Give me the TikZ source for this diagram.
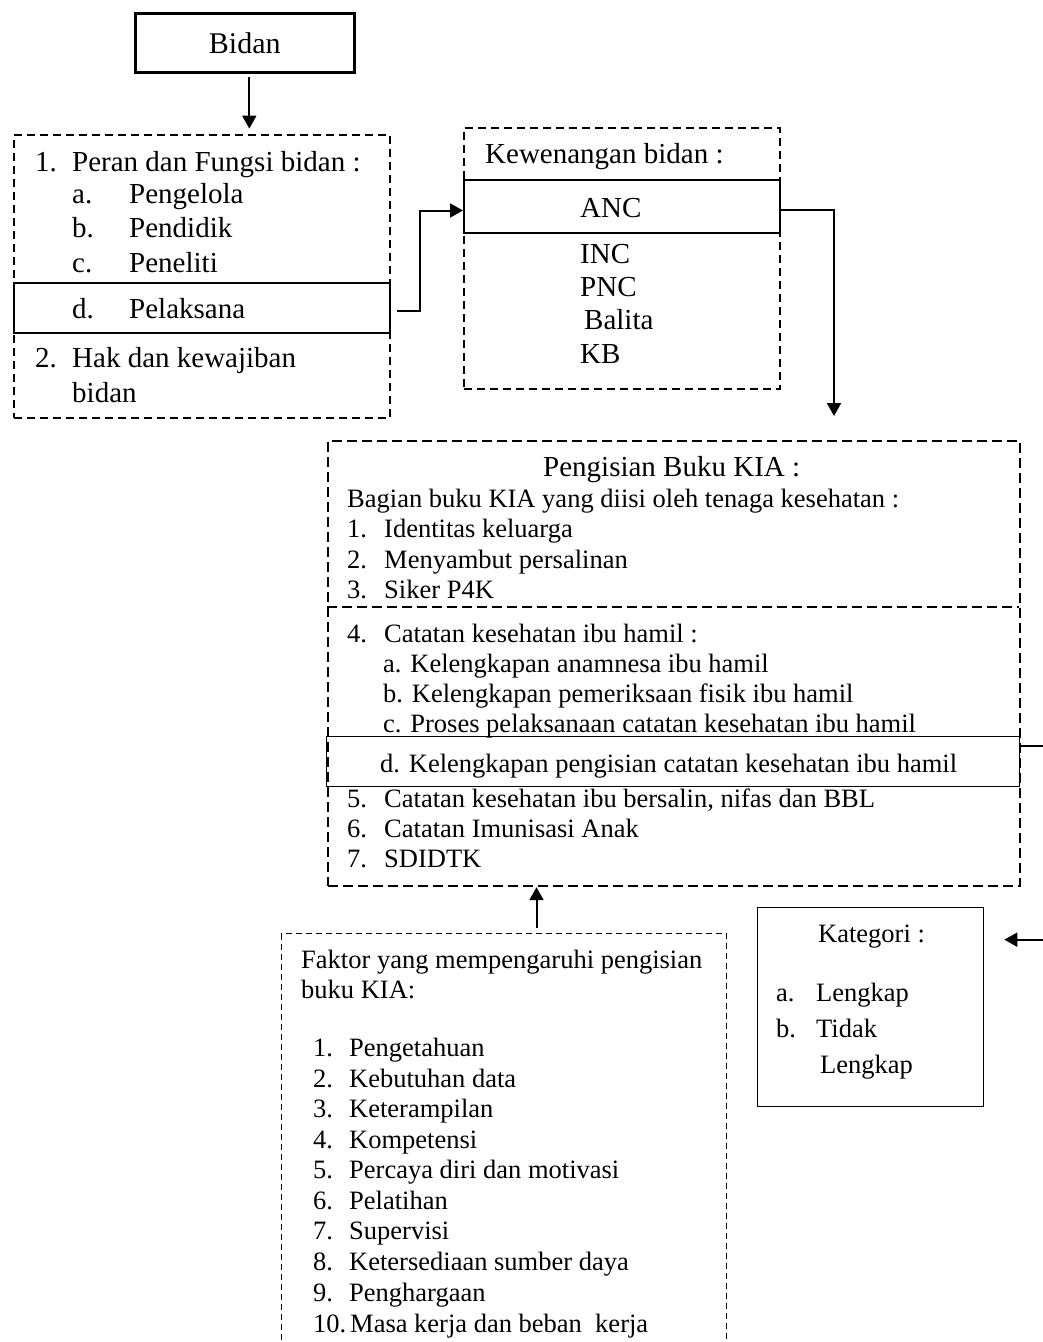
\documentclass[tikz,border=0pt]{standalone}
\usepackage{fontspec}
\setmainfont{Liberation Serif}
\usetikzlibrary{arrows.meta}
\tikzset{
  big/.style={font=\fontsize{29pt}{33pt}\selectfont, anchor=base west, inner sep=0pt},
  sml/.style={font=\fontsize{26.5pt}{30pt}\selectfont, anchor=base west, inner sep=0pt},
  frame/.style={draw, anchor=north west, inner sep=0pt},
  dboxa/.style={frame, dash pattern=on 8pt off 5pt, line width=1.7pt},
  dboxb/.style={frame, dash pattern=on 10pt off 5pt, line width=2.2pt},
  dboxc/.style={frame, dash pattern=on 6pt off 4pt, line width=1pt},
  sbox/.style={frame, line width=2.3pt},
  tbox/.style={frame, line width=1.3pt},
  arr/.style={line width=2pt, -{Triangle[length=13pt,width=14pt]}},
}
\begin{document}
\begin{tikzpicture}[x=1pt,y=-1pt]
\path[use as bounding box] (0,0) rectangle (1043,1342);
\clip (0,0) rectangle (1043,1342);

% ---- Bidan
\node[sbox, line width=2.6pt, minimum width=219pt, minimum height=59pt,
      font=\fontsize{30pt}{34pt}\selectfont] (bidan) at (134,12) {Bidan};

% ---- Box 1
\node[dboxa, minimum width=376pt, minimum height=283pt] (box1) at (13,134) {};
\node[sbox, minimum width=376pt, minimum height=50pt] (pel) at (13,282) {};
\node[big] (p1n) at (35,171) {1.};
\node[big] (p1t) at (72,171) {Peran dan Fungsi bidan :};
\node[big] (pan) at (72,203) {a.};
\node[big] (pat) at (129,203) {Pengelola};
\node[big] (pbn) at (72,237) {b.};
\node[big] (pbt) at (129,237) {Pendidik};
\node[big] (pcn) at (72,272) {c.};
\node[big] (pct) at (129,272) {Peneliti};
\node[big] (pdn) at (72,318) {d.};
\node[big] (pdt) at (129,318) {Pelaksana};
\node[big] (p2n) at (35,367) {2.};
\node[big] (p2t) at (72,367) {Hak dan kewajiban};
\node[big] (p2u) at (72,402) {bidan};

% ---- Box 2
\node[dboxa, minimum width=316pt, minimum height=261pt] (box2) at (463,127) {};
\node[sbox, line width=2pt, minimum width=316pt, minimum height=53pt] (anc) at (463,179) {};
\node[big] (kw) at (485,163) {Kewenangan bidan :};
\node[big] (ancT) at (580,217) {ANC};
\node[big] (inc) at (580,263) {INC};
\node[big] (pnc) at (580,296) {PNC};
\node[big] (bal) at (584,329) {Balita};
\node[big] (kb) at (580,363) {KB};

% ---- Box 3
\node[dboxb, minimum width=692pt, minimum height=445pt] (box3) at (327,440) {};
\coordinate (mL) at (327,607);
\coordinate (mR) at (1019,607);
\draw[dash pattern=on 10pt off 5pt, line width=2.2pt] (mL) -- (mR);
\node[tbox, minimum width=693pt, minimum height=50pt] (kiad) at (326,736) {};
\node[big] (k0) at (543,476) {Pengisian Buku KIA :};
\node[sml] (k1) at (347,507) {Bagian buku KIA yang diisi oleh tenaga kesehatan :};
\node[sml] (k2n) at (347,537) {1.};
\node[sml] (k2t) at (384,537) {Identitas keluarga};
\node[sml] (k3n) at (347,568) {2.};
\node[sml] (k3t) at (384,568) {Menyambut persalinan};
\node[sml] (k4n) at (347,598) {3.};
\node[sml] (k4t) at (384,598) {Siker P4K};
\node[sml] (k5n) at (347,642) {4.};
\node[sml] (k5t) at (384,642) {Catatan kesehatan ibu hamil :};
\node[sml] (k6) at (383,672) {a. Kelengkapan anamnesa ibu hamil};
\node[sml] (k7) at (383,702) {b. Kelengkapan pemeriksaan fisik ibu hamil};
\node[sml] (k8) at (383,732) {c. Proses pelaksanaan catatan kesehatan ibu hamil};
\node[sml] (k9) at (380,772) {d. Kelengkapan pengisian catatan kesehatan ibu hamil};
\node[sml] (k10n) at (347,807) {5.};
\node[sml] (k10t) at (384,807) {Catatan kesehatan ibu bersalin, nifas dan BBL};
\node[sml] (k11n) at (347,837) {6.};
\node[sml] (k11t) at (384,837) {Catatan Imunisasi Anak};
\node[sml] (k12n) at (347,867) {7.};
\node[sml] (k12t) at (384,867) {SDIDTK};

% ---- Box 4
\node[dboxc, minimum width=445pt, minimum height=440pt] (box4) at (281,933) {};
\node[sml] (f0) at (301,968) {Faktor yang mempengaruhi pengisian};
\node[sml] (f0b) at (301,998) {buku KIA:};
\node[sml] (f1n) at (313,1056) {1.};
\node[sml] (f1t) at (349,1056) {Pengetahuan};
\node[sml] (f2n) at (313,1087) {2.};
\node[sml] (f2t) at (349,1087) {Kebutuhan data};
\node[sml] (f3n) at (313,1117) {3.};
\node[sml] (f3t) at (349,1117) {Keterampilan};
\node[sml] (f4n) at (313,1148) {4.};
\node[sml] (f4t) at (349,1148) {Kompetensi};
\node[sml] (f5n) at (313,1178) {5.};
\node[sml] (f5t) at (349,1178) {Percaya diri dan motivasi};
\node[sml] (f6n) at (313,1209) {6.};
\node[sml] (f6t) at (349,1209) {Pelatihan};
\node[sml] (f7n) at (313,1239) {7.};
\node[sml] (f7t) at (349,1239) {Supervisi};
\node[sml] (f8n) at (313,1270) {8.};
\node[sml] (f8t) at (349,1270) {Ketersediaan sumber daya};
\node[sml] (f9n) at (313,1301) {9.};
\node[sml] (f9t) at (349,1301) {Penghargaan};
\node[sml] (f10n) at (313,1332) {10.};
\node[sml] (f10t) at (350,1332) {Masa kerja dan beban \ kerja};

% ---- Kategori
\node[tbox, minimum width=226pt, minimum height=199pt] (kat) at (757,907) {};
\node[sml] (c0) at (818,942) {Kategori :};
\node[sml] (c1n) at (776,1001) {a.};
\node[sml] (c1t) at (816,1001) {Lengkap};
\node[sml] (c2n) at (776,1037) {b.};
\node[sml] (c2t) at (816,1037) {Tidak};
\node[sml] (c3t) at (820,1073) {Lengkap};

% ---- Connectors
\draw[arr] ([xshift=4.5pt,yshift=-3pt]bidan.south) -- ++(0,52);
\draw[arr] ([xshift=6pt,yshift=-3pt]pel.east) -- ++(23,0) |- ([yshift=-4pt]anc.west);
\draw[arr] ([yshift=-3.5pt]anc.east) -- ++(53,0) -- ++(0,206);
\coordinate (b4top) at ([xshift=32.5pt,yshift=5pt]box4.north);
\draw[arr] (b4top) -- (b4top |- box3.south);
\coordinate (kr) at ([yshift=16pt]kiad.east);
\draw[arr] (kr) -- ++(40,0) |- ([xshift=20pt,yshift=67.5pt]kat.east);
\end{tikzpicture}
\end{document}
